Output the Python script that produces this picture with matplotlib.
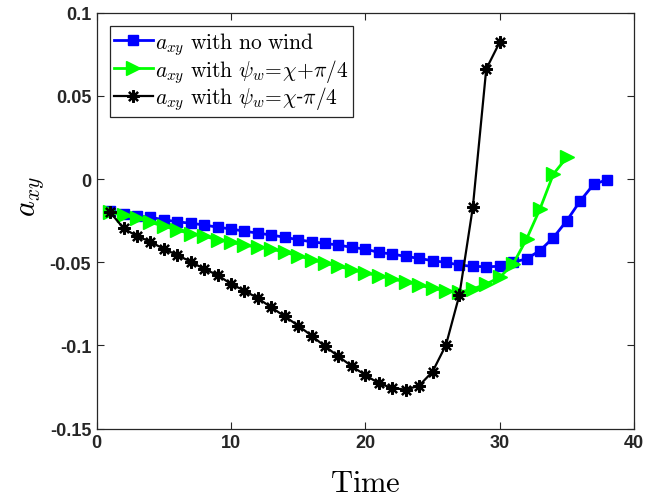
import matplotlib
matplotlib.use("Agg")
import matplotlib.pyplot as plt
import numpy as np

# ---- data ----
t_nowind = list(range(1, 39))
a_nowind = [-0.019, -0.021, -0.022, -0.023, -0.0245, -0.0257, -0.0266, -0.0276, -0.029, -0.030,
            -0.0314, -0.0325, -0.0337, -0.0350, -0.0365, -0.0377, -0.0387, -0.0397, -0.0411, -0.0421,
            -0.0441, -0.0451, -0.0465, -0.0477, -0.0491, -0.0501, -0.0517, -0.0525, -0.0527, -0.0525,
            -0.0500, -0.0480, -0.0430, -0.0352, -0.0250, -0.0131, -0.0032, -0.0004]

t_plus = list(range(1, 36))
a_plus = [-0.020, -0.0216, -0.0236, -0.026, -0.0284, -0.0306, -0.033, -0.0344, -0.0365, -0.038,
          -0.0397, -0.041, -0.042, -0.0441, -0.0461, -0.0485, -0.0505, -0.0525, -0.0545, -0.0565,
          -0.0581, -0.0601, -0.0617, -0.0637, -0.0657, -0.0671, -0.0681, -0.0661, -0.0631, -0.0591,
          -0.0511, -0.0361, -0.018, 0.003, 0.013]

t_minus = list(range(1, 31))
a_minus = [-0.020, -0.0296, -0.0344, -0.0377, -0.0421, -0.0457, -0.0497, -0.0541, -0.0577, -0.0631,
           -0.0671, -0.0717, -0.0771, -0.0826, -0.0881, -0.0942, -0.1006, -0.1066, -0.1126, -0.1178,
           -0.1228, -0.1256, -0.1266, -0.1242, -0.1158, -0.0998, -0.0697, -0.0170, 0.0661, 0.0822]

labels = [r'$a_{xy}\ \mathrm{with\ no\ wind}$',
          r'$a_{xy}\ \mathrm{with}\ \psi_w\!=\!\chi\!+\!\pi/4$',
          r'$a_{xy}\ \mathrm{with}\ \psi_w\!=\!\chi$-$\pi/4$']
xticks = [0, 10, 20, 30, 40]
yticks = [-0.15, -0.1, -0.05, 0, 0.05, 0.1]
yticklabels = ['-0.15', '-0.1', '-0.05', '0', '0.05', '0.1']

plt.rcParams['mathtext.fontset'] = 'cm'
plt.rcParams['font.family'] = ['Liberation Sans', 'DejaVu Sans']

fig = plt.figure(figsize=(6.49, 5.02), dpi=100)
ax = fig.add_axes([0.149, 0.1442, 0.8279, 0.8287])

ax.plot(t_nowind, a_nowind, color=(0, 0, 1), lw=2, marker='s', ms=6.5, mfc=(0, 0, 1), mec=(0, 0, 1),
        label=labels[0])
ax.plot(t_plus, a_plus, color=(0, 1, 0), lw=2, marker='>', ms=10.5, mfc=(0, 1, 0), mec=(0, 1, 0),
        label=labels[1])
ax.plot(t_minus, a_minus, color='k', lw=1.6, marker=(8, 2, 0), ms=9, mew=1.6, mec='k',
        label=labels[2])

ax.set_xlim(0, 40)
ax.set_ylim(-0.15, 0.1)
ax.set_xticks(xticks)
ax.set_xticklabels([str(v) for v in xticks], fontweight='bold', fontsize=13, color='#262626')
ax.set_yticks(yticks)
ax.set_yticklabels(yticklabels, fontweight='bold', fontsize=13, color='#262626')
ax.tick_params(direction='in', length=5, width=0.8, top=True, right=True, colors='#262626',
               labelcolor='#262626', pad=4)
for s in ax.spines.values():
    s.set_linewidth(0.9)
    s.set_color('#262626')

ax.set_xlabel(r'$\mathrm{Time}$', fontsize=22, labelpad=12)
ax.set_ylabel(r'$a_{xy}$', fontsize=22)
ax.yaxis.set_label_coords(-0.095, 0.56)

leg = ax.legend(loc='upper left', fontsize=15.5, frameon=True, fancybox=False, framealpha=1,
                edgecolor='#262626', borderpad=0.2, labelspacing=0.0, handlelength=1.8,
                handletextpad=0.1, borderaxespad=0.6)
leg.get_frame().set_linewidth(0.9)

fig.savefig('out.png', dpi=100)
